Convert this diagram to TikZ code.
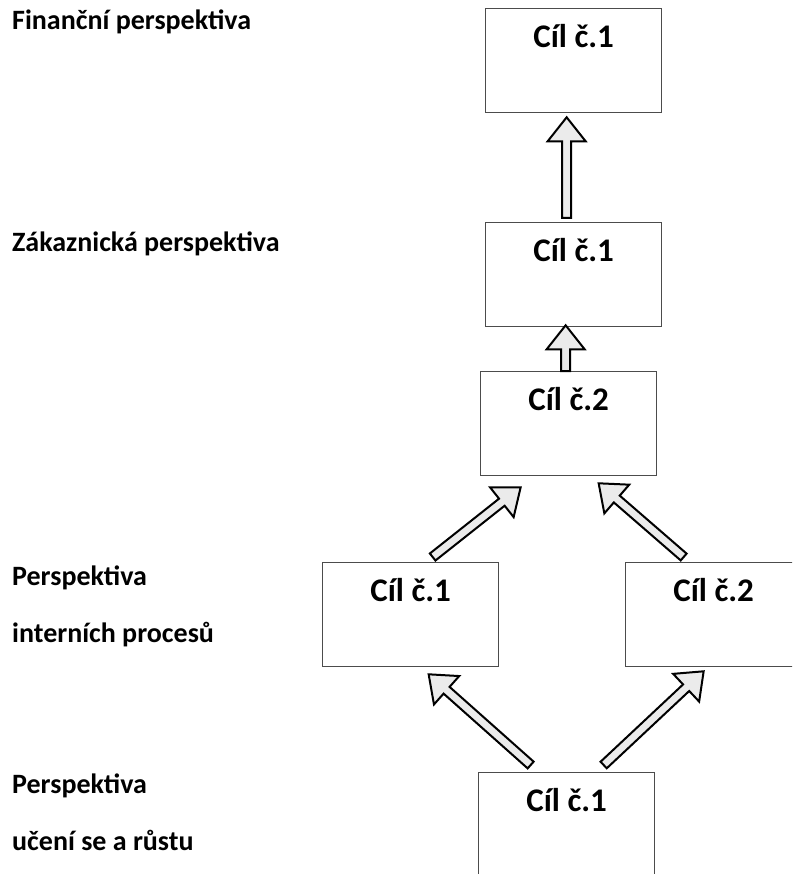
\documentclass[tikz,border=0pt]{standalone}
\usepackage{fontspec}
\setmainfont{Carlito}
\usepackage{tikz}
\usetikzlibrary{calc,positioning}

% outlined block arrow between two points
\newcommand{\blockarrow}[2]{%
  \coordinate (bs) at #1;
  \coordinate (be) at #2;
  \coordinate (bh) at ($(be)!24pt!(bs)$);
  \draw[arrowshape] ($(bs)!4.5pt!90:(be)$) -- ($(bh)!4.5pt!-90:(bs)$) -- ($(bh)!19pt!-90:(bs)$)
    -- (be) -- ($(bh)!19pt!90:(bs)$) -- ($(bh)!4.5pt!90:(bs)$) -- ($(bs)!4.5pt!-90:(be)$) -- cycle;}

\begin{document}
\begin{tikzpicture}[x=1pt, y=1pt,
    goal/.style={rectangle, draw=black!70, line width=1.3pt, fill=white, anchor=north west,
      minimum width=176pt, inner xsep=0pt, inner ysep=0pt, text height=39pt, text depth=65pt,
      font=\fontsize{33}{39}\selectfont\bfseries},
    persp/.style={anchor=base west, inner sep=0pt, align=left,
      font=\fontsize{28}{57}\selectfont\bfseries},
    arrowshape/.style={draw=black, line width=2pt, fill=black!8, line join=miter}]
    \clip (0,0) rectangle (792,-874);

    \node[persp] (lfin) at (12,-30) {Finanční perspektiva};
    \node[persp] (lzak) at (12,-252) {Zákaznická perspektiva};
    \node[persp] (lint) at (12,-642) {Perspektiva\\interních procesů};
    \node[persp] (luc) at (12,-850) {Perspektiva\\učení se a růstu};

    \node[goal] (fin) at (485,-8) {Cíl č.1};
    \node[goal] (zak) at (485,-222) {Cíl č.1};
    \node[goal] (zaktwo) at (480,-371) {Cíl č.2};
    \node[goal] (int) at (322,-562) {Cíl č.1};
    \node[goal] (inttwo) at (625,-562) {Cíl č.2};
    \node[goal, text depth=90pt] (uc) at (478,-772) {Cíl č.1};

    \blockarrow{([xshift=-7pt,yshift=4pt]zak.north)}{([xshift=-7pt,yshift=-4pt]fin.south)}
    \blockarrow{([xshift=-3pt]zaktwo.north)}{([xshift=-8pt,yshift=2pt]zak.south)}
    \blockarrow{([xshift=22pt,yshift=5pt]int.north)}{([xshift=-48pt,yshift=-11pt]zaktwo.south)}
    \blockarrow{([xshift=-30pt,yshift=5pt]inttwo.north)}{([xshift=30pt,yshift=-7pt]zaktwo.south)}
    \blockarrow{([xshift=-36pt,yshift=7pt]uc.north)}{([xshift=18pt,yshift=-7pt]int.south)}
    \blockarrow{([xshift=37pt,yshift=7pt]uc.north)}{([xshift=-10pt,yshift=-4pt]inttwo.south)}
\end{tikzpicture}
\end{document}
